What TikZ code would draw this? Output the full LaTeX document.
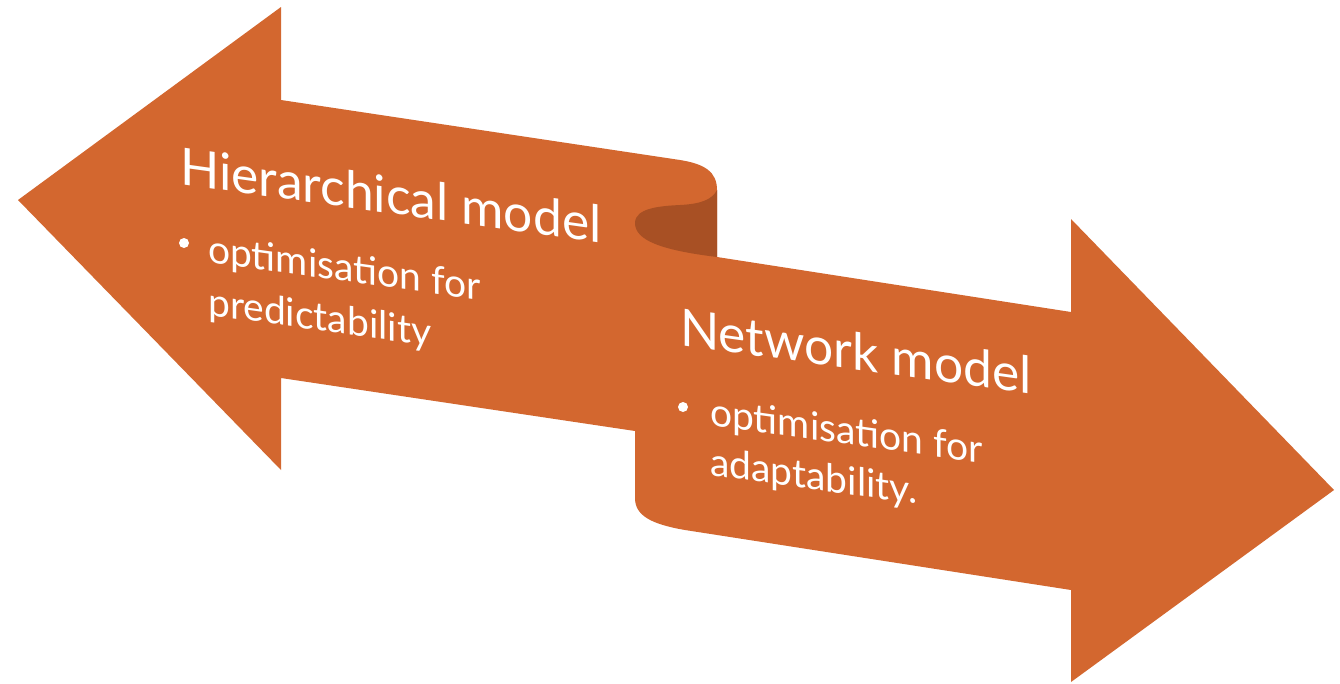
\documentclass[tikz,border=0pt]{standalone}
\usepackage{fontspec}
\setmainfont{Lato}
\definecolor{ribbon}{RGB}{211,103,47}
\definecolor{ribbondark}{RGB}{168,80,36}
\begin{document}
\begin{tikzpicture}[x=1pt,y=-1pt,
  txt/.style={text=white, inner sep=0pt, anchor=base west, yslant=-0.14},
  head/.style={txt, font=\fontsize{51.5}{60}\selectfont},
  body/.style={txt, font=\fontsize{39}{44}\selectfont},
  bulletdot/.style={circle, fill=white, inner sep=0pt, minimum size=10pt}]
\useasboundingbox (0,0) rectangle (1340,683);
% ribbon outline
\fill[ribbon] (18,200) -- (281,7) -- (281,100) -- (680,160)
  .. controls (705,164) and (717,172) .. (717,190)
  -- (717,257) -- (1071,312) -- (1071,219) -- (1334,490) -- (1071,682)
  -- (1071,590) -- (685,530)
  .. controls (650,524) and (635,515) .. (635,498)
  -- (635,431) -- (281,378) -- (281,470) -- cycle;
% back side visible at the fold
\fill[ribbondark] (717,190) .. controls (712,200) and (700,204) .. (680,205)
  .. controls (660,206) and (635,208) .. (635,223)
  .. controls (635,240) and (660,250) .. (717,257) -- cycle;
% texts
\node[head] (h1) at (180,184) {Hierarchical model};
\node[bulletdot] (b1) at (184,243) {};
\node[body] (t1a) at (208,262) {optimisation for};
\node[body] (t1b) at (208,315) {predictability};
\node[head] (h2) at (680,345) {Network model};
\node[bulletdot] (b2) at (683,407) {};
\node[body] (t2a) at (710,425) {optimisation for};
\node[body] (t2b) at (710,475) {adaptability.};
\end{tikzpicture}
\end{document}
